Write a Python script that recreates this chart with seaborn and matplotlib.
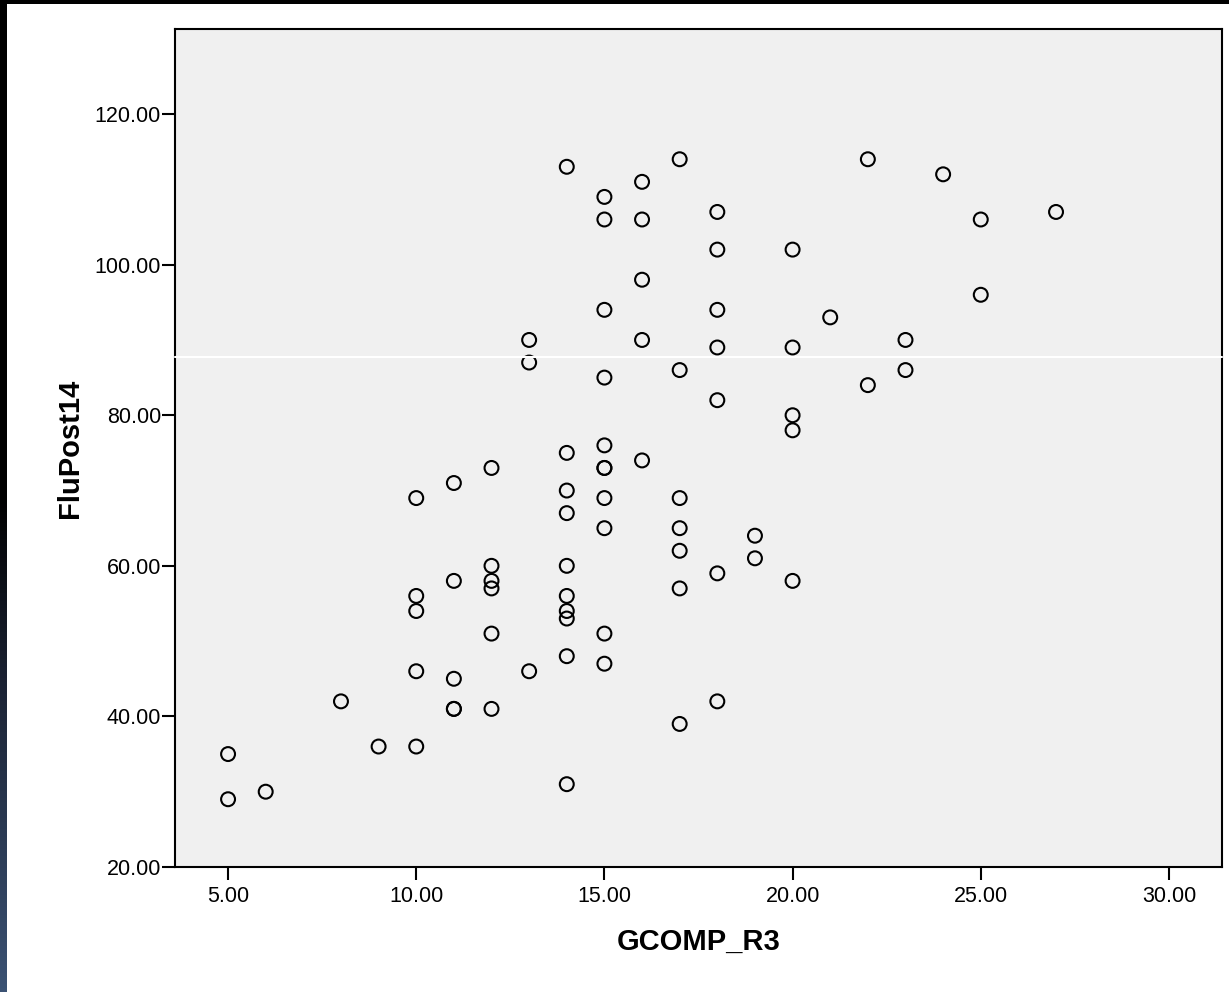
import numpy as np
import pandas as pd
import matplotlib
matplotlib.use('Agg')
import matplotlib.pyplot as plt
import seaborn as sns

# nilai (GCOMP_R3 vs FluPost14)
gcomp = [5, 5, 6, 8, 9,
         10, 10, 10, 10, 10,
         11, 11, 11, 11, 11,
         12, 12, 12, 12, 12, 12,
         13, 13, 13,
         14, 14, 14, 14, 14, 14, 14, 14, 14, 14,
         15, 15, 15, 15, 15, 15, 15, 15, 15, 15, 15,
         16, 16, 16, 16, 16,
         17, 17, 17, 17, 17, 17, 17,
         18, 18, 18, 18, 18, 18, 18,
         19, 19,
         20, 20, 20, 20, 20,
         21, 22, 22, 23, 23, 24, 25, 25, 27]
flupost = [35, 29, 30, 42, 36,
           69, 56, 54, 46, 36,
           71, 58, 45, 41, 41,
           73, 60, 58, 57, 51, 41,
           90, 87, 46,
           113, 75, 70, 67, 60, 56, 54, 53, 48, 31,
           109, 106, 94, 85, 76, 73, 73, 69, 65, 51, 47,
           111, 106, 98, 90, 74,
           114, 86, 69, 65, 62, 57, 39,
           107, 102, 94, 89, 82, 59, 42,
           64, 61,
           102, 89, 80, 78, 58,
           93, 114, 84, 90, 86, 112, 106, 96, 107]

x_ticks = [5, 10, 15, 20, 25, 30]
y_ticks = [20, 40, 60, 80, 100, 120]

data = pd.DataFrame({'GCOMP_R3': gcomp, 'FluPost14': flupost})

sns.set_style('white')
plt.rcParams['font.family'] = ['Liberation Sans', 'DejaVu Sans']
plt.rcParams['text.color'] = 'black'
plt.rcParams['axes.labelcolor'] = 'black'
plt.rcParams['xtick.color'] = 'black'
plt.rcParams['ytick.color'] = 'black'

fig = plt.figure(figsize=(12.29, 9.92), dpi=100)
ax = fig.add_axes([175 / 1229, 1 - 867 / 992, 1047 / 1229, 838 / 992])
ax.set_facecolor('#f0f0f0')

sns.scatterplot(x='GCOMP_R3', y='FluPost14', data=data, ax=ax,
                marker='o', s=100, facecolors='none', edgecolor='black',
                linewidth=1.5, zorder=3)

ax.set_xlim(3.59, 31.41)
ax.set_ylim(20, 131.3)
ax.set_xticks(x_ticks)
ax.set_yticks(y_ticks)
ax.set_xticklabels(['%.2f' % v for v in x_ticks], fontsize=15.5)
ax.set_yticklabels(['%.2f' % v for v in y_ticks], fontsize=15.5)
ax.tick_params(axis='x', direction='out', length=9.5, width=1.5, pad=4,
               bottom=True, colors='black')
ax.tick_params(axis='y', direction='out', length=9.5, width=1.5, pad=0.5,
               left=True, colors='black')
for sp in ax.spines.values():
    sp.set_color('black')
    sp.set_linewidth(1.5)

ax.set_xlabel('GCOMP_R3', fontsize=21, fontweight='bold', labelpad=15, color='black')
ax.set_ylabel('FluPost14', fontsize=21, fontweight='bold', labelpad=8, color='black')

# garis putih yang melintang di gambar asli
ax.axhline(87.75, color='white', linewidth=1.5, zorder=6, clip_on=False)

# bingkai gelap di tepi kiri dan atas
top = fig.add_axes([0, 1 - 4 / 992, 1, 4 / 992])
top.set_facecolor('black')
top.set_xticks([])
top.set_yticks([])
for sp in top.spines.values():
    sp.set_visible(False)
left = fig.add_axes([0, 0, 7 / 1229, 1])
grad = np.linspace(0, 1, 256).reshape(-1, 1)
cmap = matplotlib.colors.LinearSegmentedColormap.from_list(
    'frame', [(0, '#3b5273'), (0.3, '#1c2436'), (0.5, '#000000'), (1, '#000000')])
left.imshow(grad, aspect='auto', cmap=cmap, origin='lower', extent=[0, 1, 0, 1])
left.set_axis_off()

plt.savefig('out.png', dpi=100)
